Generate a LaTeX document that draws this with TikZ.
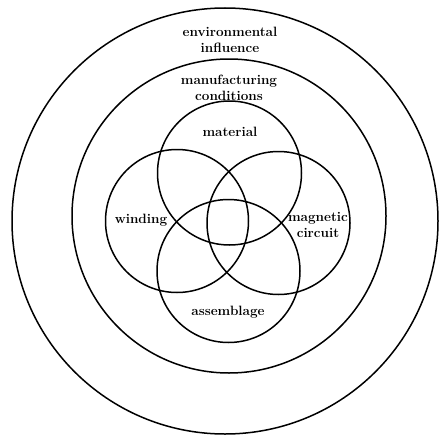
\documentclass[tikz,border=0pt]{standalone}
\usepackage{tikz}
\usetikzlibrary{positioning}

\begin{document}
\begin{tikzpicture}[
    x=1pt, y=-1pt,
    ring/.style={draw, circle, line width=1.5pt, inner sep=0pt},
    label/.style={align=center, font=\bfseries\fontsize{13.5}{16}\selectfont, inner sep=1pt}
]
    \useasboundingbox (0,0) rectangle (441,436);

    % ================= OUTER RINGS =================
    \node[ring, minimum size=426pt] (ENVIRON) at (225, 221) {};
    \node[ring, minimum size=314pt] (MANUF) at (229, 216) {};

    % ================= FOUR OVERLAPPING CIRCLES =================
    \node[ring, minimum size=144pt] (MATERIAL) at (229.5, 173) {};
    \node[ring, minimum size=143pt] (WINDING) at (177, 221) {};
    \node[ring, minimum size=143pt] (MAGNETIC) at (278.5, 223) {};
    \node[ring, minimum size=143pt] (ASSEMBLE) at (228.5, 271) {};

    % ================= LABELS =================
    \node[label] (env_lbl) at (230, 40) {environmental\\influence};
    \node[label] (man_lbl) at (229, 88) {manufacturing\\conditions};
    \node[label] (mat_lbl) at (230, 132) {material};
    \node[label] (win_lbl) at (141, 220) {winding};
    \node[label] (mag_lbl) at (318, 225) {magnetic\\circuit};
    \node[label] (ass_lbl) at (228, 312) {assemblage};

\end{tikzpicture}
\end{document}
